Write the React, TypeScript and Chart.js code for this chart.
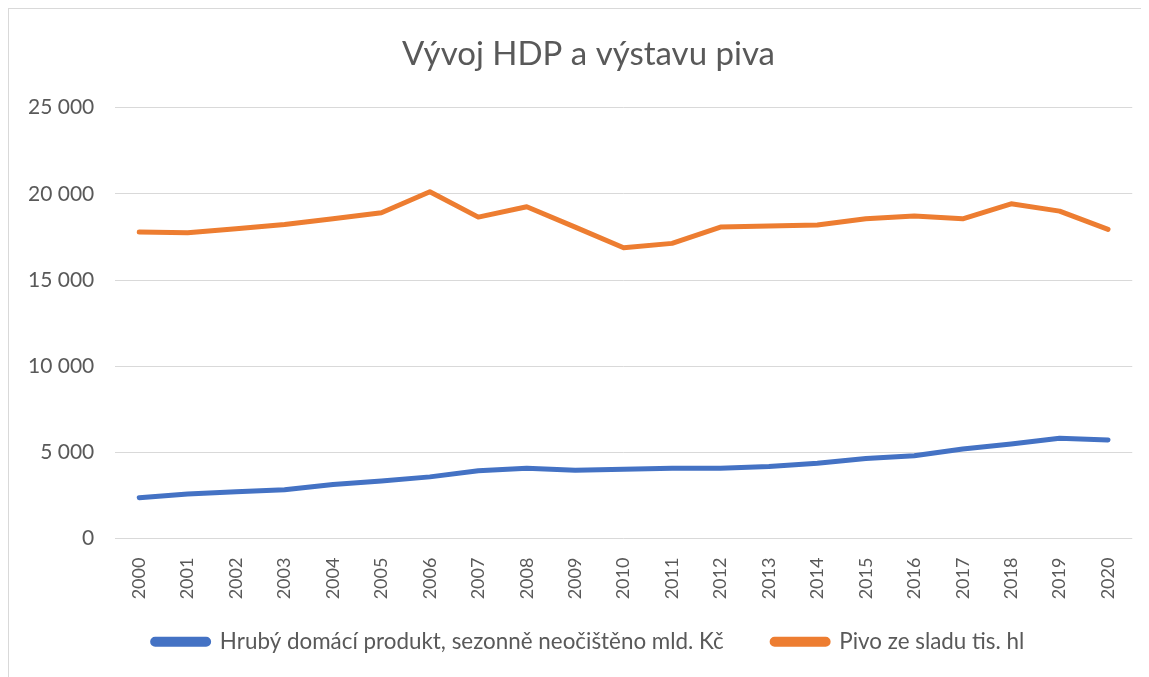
import { useEffect, useRef } from 'react';
import { Chart, registerables } from 'chart.js';

Chart.register(...registerables);

const years = ['2000', '2001', '2002', '2003', '2004', '2005', '2006', '2007', '2008', '2009', '2010', '2011', '2012', '2013', '2014', '2015', '2016', '2017', '2018', '2019', '2020'];
const gdpValues = [2374, 2588, 2724, 2840, 3132, 3346, 3580, 3930, 4086, 3969, 4027, 4086, 4086, 4183, 4377, 4650, 4805, 5195, 5486, 5817, 5720];
const beerValues = [17780, 17741, 17973, 18224, 18552, 18900, 20116, 18649, 19247, 18070, 16873, 17124, 18070, 18127, 18185, 18552, 18707, 18552, 19421, 18996, 17934];
const gdpLabel = 'Hrubý domácí produkt, sezonně neočištěno mld. Kč';
const beerLabel = 'Pivo ze sladu tis. hl';
const titleText = 'Vývoj HDP a výstavu piva';

const fmt = (v: number) => String(v).replace(/\B(?=(\d{3})+(?!\d))/g, ' ');

export default function App() {
  const ref = useRef<HTMLCanvasElement | null>(null);
  useEffect(() => {
    if (!ref.current) return;
    const font = 'Lato, "Open Sans", sans-serif';
    const chart = new Chart(ref.current, {
      type: 'line',
      data: {
        labels: years,
        datasets: [
          {
            label: gdpLabel,
            data: gdpValues,
            borderColor: '#4472C4',
            backgroundColor: '#4472C4',
            borderWidth: 5,
            pointRadius: 0,
            borderCapStyle: 'round',
            borderJoinStyle: 'round',
            tension: 0,
          },
          {
            label: beerLabel,
            data: beerValues,
            borderColor: '#ED7D31',
            backgroundColor: '#ED7D31',
            borderWidth: 5,
            pointRadius: 0,
            borderCapStyle: 'round',
            borderJoinStyle: 'round',
            tension: 0,
          },
        ],
      },
      options: {
        animation: false,
        responsive: false,
        layout: { padding: { left: 35, right: 16, top: 0, bottom: 14 } },
        plugins: {
          title: {
            display: true,
            text: titleText,
            color: '#595959',
            font: { family: font, size: 33, weight: 'normal' },
            padding: { top: 26, bottom: 33 },
          },
          legend: {
            position: 'bottom',
            labels: {
              color: '#595959',
              font: { family: font, size: 22.4 },
              boxWidth: 56,
              boxHeight: 5,
              useBorderRadius: true,
              borderRadius: 2.5,
              padding: 12,
              generateLabels: (c: any) => {
                const items = Chart.defaults.plugins.legend.labels.generateLabels(c);
                if (items.length > 1) items[0].text = items[0].text + '\u2003\u2003\u2009';
                return items;
              },
            },
          },
          tooltip: { enabled: false },
        },
        scales: {
          x: {
            offset: true,
            grid: { display: false, drawTicks: false },
            border: { display: false },
            ticks: {
              color: '#595959',
              font: { family: font, size: 18 },
              minRotation: 90,
              maxRotation: 90,
              padding: 19,
              autoSkip: false,
            },
            afterFit: (s: any) => { s.height = 80; },
          },
          y: {
            min: 0,
            max: 25000,
            grid: { color: '#d9d9d9', lineWidth: 1, drawTicks: false },
            border: { display: false },
            ticks: {
              stepSize: 5000,
              color: '#595959',
              font: { family: font, size: 21 },
              mirror: true,
              crossAlign: 'far',
              padding: -87,
              callback: (v: any) => fmt(Number(v)),
            },
            afterFit: (s: any) => { s.width = 71; },
          },
        },
      },
    });
    return () => chart.destroy();
  }, []);
  return (
    <div style={{ width: 1141, height: 669, borderLeft: '1px solid #d9d9d9', borderTop: '1px solid #d9d9d9', boxSizing: 'border-box', background: '#fff' }}>
      <canvas ref={ref} width={1140} height={668} style={{ display: 'block' }} />
    </div>
  );
}
